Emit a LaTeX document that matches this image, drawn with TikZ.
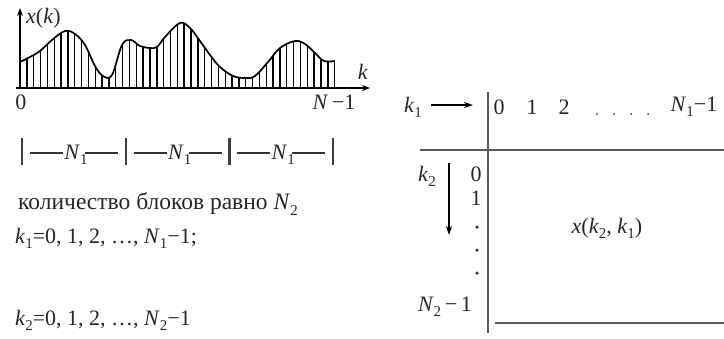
\documentclass[tikz,border=0pt]{standalone}
\usepackage{fontspec}
\setmainfont{Liberation Serif}
\usetikzlibrary{arrows.meta}
\newcommand\sbs[1]{\raisebox{-0.5ex}{\fontsize{15}{15}\selectfont #1}}
\newcommand\vi[1]{\textit{#1}}
\begin{document}
\begin{tikzpicture}[x=1pt,y=-1pt,
  lbl/.style={inner sep=0pt, text=black!85, font=\fontsize{22}{26}\selectfont},
  axisline/.style={line width=1.8pt, -{Stealth[length=8pt,width=6pt]}},
  stem/.style={line width=1.4pt},
  curve/.style={line width=1.7pt},
  blockbar/.style={line width=2.4pt, draw=black!75},
  blockdash/.style={line width=1.5pt, draw=black!80},
  tabline/.style={line width=2.6pt, draw=black!65},
  vline/.style={line width=2pt, draw=black!65},
  ptr/.style={line width=1.4pt, -{Stealth[length=9pt,width=6pt]}},
  dotm/.style={circle, fill=black!80, inner sep=0pt, minimum size=3.5pt}]
\useasboundingbox (0,0) rectangle (724,338);

% ---- signal plot ----
\begin{scope}
  \clip plot[smooth, tension=0.6] coordinates {(20,62) (30,57) (40,51) (52,40) (65,31) (75,34) (85,45) (95,66) (103,76) (112,75) (122,45) (131,40) (140,46) (150,48) (157,47) (165,37) (180,23) (190,28) (200,41) (210,55) (220,67) (233,76) (245,78) (255,76) (268,62) (280,48) (295,41) (305,44) (315,53) (324,61) (335,61)} -- (335,89) -- (18,89) -- cycle;
  \foreach \i in {0,...,46} \draw[stem] ({20+\i*6.84},89) -- ++(0,-85);
\end{scope}
\draw[curve] plot[smooth, tension=0.6] coordinates {(20,62) (30,57) (40,51) (52,40) (65,31) (75,34) (85,45) (95,66) (103,76) (112,75) (122,45) (131,40) (140,46) (150,48) (157,47) (165,37) (180,23) (190,28) (200,41) (210,55) (220,67) (233,76) (245,78) (255,76) (268,62) (280,48) (295,41) (305,44) (315,53) (324,61) (335,61)};
\coordinate (o) at (20,88);
\coordinate (xend) at (370,88);
\coordinate (yend) at (20,8);
\draw[axisline] (16,88) -- (xend);
\draw[axisline] (o) -- (yend);
\node[lbl, anchor=west] (xk) at (26,18) {\vi{x}(\vi{k})};
\node[lbl] (klab) at (363,72) {\vi{k}};
\node[lbl] (zero) at (21,102) {0};
\node[lbl] (nm1) at (334,102) {\vi{N}\,−1};

% ---- blocks ----
\foreach \bx [count=\j] in {22,125.7,229.3,333} {
  \draw[blockbar] (\bx,138) -- (\bx,165);
}
\foreach \bx [count=\j] in {22,125.7,229.3} {
  \node[lbl] (blk\j) at (\bx+54,155) {\vi{N}\sbs{1}};
  \draw[blockdash] (\bx+8,153) -- (\bx+41,153);
  \draw[blockdash] (\bx+63,153) -- (\bx+96,153);
}
\node[lbl, anchor=west, font=\fontsize{23.5}{26}\selectfont] (cnt) at (18,204) {количество блоков равно \vi{N}\sbs{2}};
\node[lbl, anchor=west] (k1eq) at (15,238) {\vi{k}\sbs{1}=0, 1, 2, …, \vi{N}\sbs{1}−1;};
\node[lbl, anchor=west] (k2eq) at (15,320) {\vi{k}\sbs{2}=0, 1, 2, …, \vi{N}\sbs{2}−1};

% ---- table ----
\coordinate (vt) at (488,92);
\coordinate (vb) at (488,333);
\coordinate (hl) at (420,150);
\coordinate (hr) at (724,150);
\coordinate (bl) at (495,323);
\coordinate (br) at (724,323);
\draw[vline] (vt) -- (vb);
\draw[tabline] (hl) -- (hr);
\draw[tabline] (bl) -- (br);

\node[lbl] (k1) at (413,107) {\vi{k}\sbs{1}};
\coordinate (k1s) at (431,105);
\coordinate (k1a) at (473,105);
\draw[ptr] (k1s) -- (k1a);
\node[lbl] (h0) at (499,107) {0};
\node[lbl] (h1) at (532,107) {1};
\node[lbl] (h2) at (564,107) {2};
\foreach \dx in {597,614,631,648} \node[dotm, minimum size=2pt] at (\dx,114) {};
\node[lbl] (hN) at (694,107) {\vi{N}\sbs{1}−1};

\node[lbl] (k2) at (427,176) {\vi{k}\sbs{2}};
\coordinate (k2s) at (449,163);
\coordinate (k2e) at (449,235);
\draw[ptr] (k2s) -- (k2e);
\node[lbl] (c0) at (476,174) {0};
\node[lbl] (c1) at (476,198) {1};
\node[dotm] (d1) at (477,227) {};
\node[dotm] (d2) at (477,250) {};
\node[dotm] (d3) at (477,273) {};
\node[lbl] (cN) at (445,307) {\vi{N}\sbs{2}\,−\,1};
\node[lbl] (cell) at (607,228) {\vi{x}(\vi{k}\sbs{2}, \vi{k}\sbs{1})};
\end{tikzpicture}
\end{document}
